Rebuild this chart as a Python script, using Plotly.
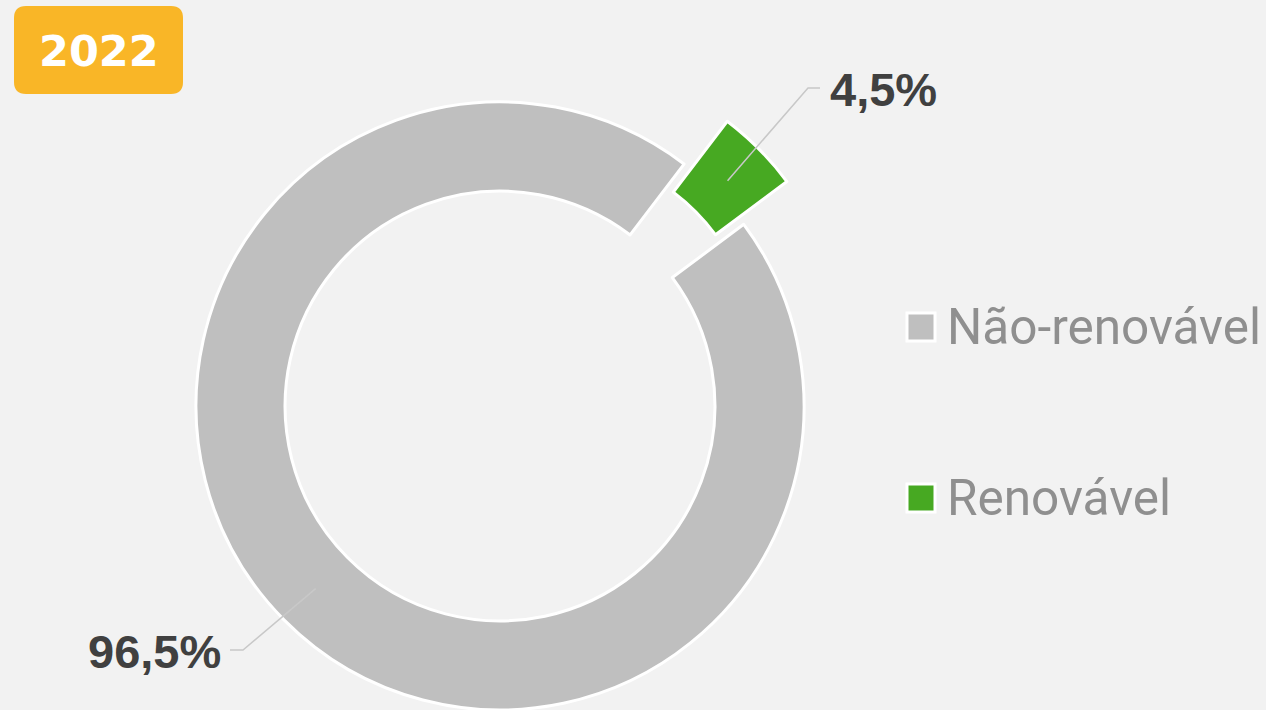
import math
import plotly.graph_objects as go

# Energy matrix 2022 — share of each source (%)
categories = ["Não-renovável", "Renovável"]
shares = [96.5, 4.5]
share_labels = ["96,5%", "4,5%"]
year_label = "2022"

colors = ["#BFBFBF", "#47A922"]
BG = "#F2F2F2"
W, H = 1266, 710

# donut geometry (pixels)
cx, cy, R = 500, 406, 304
hole = 0.707
rotation = 53.3
pull = 0.2           # renewable slice pulled out by this fraction of the radius
border = 3

total = sum(shares)
span = [v / total * 360 for v in shares]
# bisector angle of each slice (clockwise from 12 o'clock)
bisect = [(rotation + span[0] / 2) % 360,
          (rotation + span[0] + span[1] / 2) % 360]


def px(x, y):
    return x / W, 1 - y / H


def domain(cxp, cyp):
    return dict(x=[max(0, (cxp - R) / W), min(1, (cxp + R) / W)],
                y=[max(0, 1 - (cyp + R) / H), min(1, 1 - (cyp - R) / H)])


def unit(a):
    r = math.radians(a)
    return math.sin(r), -math.cos(r)


ux, uy = unit(bisect[1])
off = (pull * R * ux, pull * R * uy)
centers = [(cx, cy), (cx + off[0], cy + off[1])]
clear = "rgba(0,0,0,0)"

fig = go.Figure()
# base ring: non-renewable slice visible
fig.add_trace(go.Pie(
    labels=categories, values=shares, sort=False, direction="clockwise",
    rotation=rotation, hole=hole, textinfo="none", showlegend=False,
    domain=domain(*centers[0]),
    marker=dict(colors=[colors[0], clear],
                line=dict(color=["#FFFFFF", clear], width=border)),
))
# exploded renewable slice
fig.add_trace(go.Pie(
    labels=categories, values=shares, sort=False, direction="clockwise",
    rotation=rotation, hole=hole, textinfo="none", showlegend=False,
    domain=domain(*centers[1]),
    marker=dict(colors=[clear, colors[1]],
                line=dict(color=[clear, "#FFFFFF"], width=border)),
))

shapes = []
annotations = []

# leader lines + value labels
label_cfg = [
    dict(elbow=(243, 650), end=(230, 650), text=(223, 651), anchor="right"),
    dict(elbow=(808, 88), end=(820, 88), text=(828, 89), anchor="left"),
]
rmid = R * (1 + hole) / 2
for i, cfg in enumerate(label_cfg):
    bx, by = unit(bisect[i])
    sx, sy = centers[i][0] + rmid * bx, centers[i][1] + rmid * by
    pts = [px(sx, sy), px(*cfg["elbow"]), px(*cfg["end"])]
    path = "M {} {} L {} {} L {} {}".format(*[c for p in pts for c in p])
    shapes.append(dict(type="path", xref="paper", yref="paper", path=path,
                       line=dict(color="#C8C8C8", width=1.5)))
    tx, ty = px(*cfg["text"])
    annotations.append(dict(x=tx, y=ty, xref="paper", yref="paper",
                            text=share_labels[i], showarrow=False,
                            xanchor=cfg["anchor"], yanchor="middle",
                            font=dict(family="Liberation Sans", size=47,
                                      color="#404040", weight="bold")))

# legend
legend_rows = [327, 498]
for i, name in enumerate(categories):
    yc = legend_rows[i]
    x0, y0 = px(907, yc - 14)
    x1, y1 = px(935, yc + 14)
    shapes.append(dict(type="rect", xref="paper", yref="paper",
                       x0=x0, x1=x1, y0=y0, y1=y1,
                       fillcolor=colors[i], line=dict(color="#FFFFFF", width=3)))
    tx, ty = px(945, yc)
    annotations.append(dict(x=tx, y=ty, xref="paper", yref="paper", text=name,
                            showarrow=False, xanchor="left", yanchor="middle",
                            font=dict(family="Roboto", size=49.5, color="#8F8F8F")))

# year badge with rounded corners
bx0, by0, bx1, by1, rr = 14, 6, 183, 94, 12
corner_pts = [
    ("M", bx0 + rr, by0), ("L", bx1 - rr, by0), ("Q", bx1, by0, bx1, by0 + rr),
    ("L", bx1, by1 - rr), ("Q", bx1, by1, bx1 - rr, by1), ("L", bx0 + rr, by1),
    ("Q", bx0, by1, bx0, by1 - rr), ("L", bx0, by0 + rr), ("Q", bx0, by0, bx0 + rr, by0),
]
parts = []
for seg in corner_pts:
    cmd, coords = seg[0], seg[1:]
    xy = []
    for k in range(0, len(coords), 2):
        xx, yy = px(coords[k], coords[k + 1])
        xy += [f"{xx:.5f}", f"{yy:.5f}"]
    parts.append(cmd + " " + " ".join(xy))
shapes.append(dict(type="path", xref="paper", yref="paper",
                   path=" ".join(parts) + " Z", fillcolor="#F9B627",
                   line=dict(width=0), layer="above"))
tx, ty = px((bx0 + bx1) / 2, (by0 + by1) / 2 + 1)
annotations.append(dict(x=tx, y=ty, xref="paper", yref="paper", text=year_label,
                        showarrow=False, xanchor="center", yanchor="middle",
                        font=dict(family="DejaVu Sans", size=43, color="#FFFFFF",
                                  weight="bold")))

fig.update_layout(
    width=W, height=H,
    margin=dict(l=0, r=0, t=0, b=0),
    paper_bgcolor=BG, plot_bgcolor=BG,
    shapes=shapes, annotations=annotations,
    showlegend=False,
)

fig.write_html("out.html")
